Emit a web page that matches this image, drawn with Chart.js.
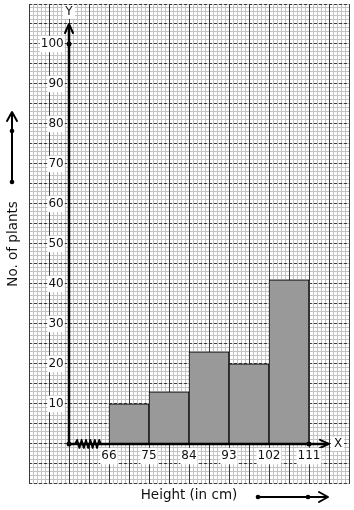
<!DOCTYPE html>
<html>
<head>
<meta charset="utf-8">
<script src="https://cdn.jsdelivr.net/npm/chart.js@4/dist/chart.umd.min.js"></script>
<style>
  html, body { margin: 0; padding: 0; background: #fff; }
</style>
</head>
<body>
<canvas id="chart" width="354" height="510"></canvas>
<script>
// class edges (cm) and number of plants in each class
const heightEdges = [66, 75, 84, 93, 102, 111];
const plantCounts = [10, 13, 23, 20, 41];
const yTickValues = [10, 20, 30, 40, 50, 60, 70, 80, 90, 100];
const xTitle = 'Height (in cm)';
const yTitle = 'No. of plants';

// where the axes cross (x axis has a kink before 66)
const xOrigin = 57;
const yAxisEnd = 105;
const xAxisEnd = 115.5;

const barPoints = plantCounts.map((c, i) => ({
  x: (heightEdges[i] + heightEdges[i + 1]) / 2,
  y: c
}));

const font = { family: 'DejaVu Sans', size: 12 };
const titleFont = { family: 'DejaVu Sans', size: 13.5 };
const ink = '#111';
const minorColor = '#c3c3c3';
const majorColor = '#3c3c3c';

function gridScale(min, max, step, pos, color, z, extra) {
  return Object.assign({
    type: 'linear', position: pos, min: min, max: max, offset: false,
    ticks: { display: false, stepSize: step },
    grid: { color: color, lineWidth: 1, drawTicks: false, offset: false, z: z },
    border: { display: false }
  }, extra || {});
}

const decor = {
  id: 'decor',
  beforeDatasetsDraw(chart) {
    chart.ctx.setLineDash([]);
  },
  afterDatasetsDraw(chart) {
    const { ctx, scales } = chart;
    const x = scales.x, y = scales.y;
    const ox = x.getPixelForValue(xOrigin);
    const oy = y.getPixelForValue(0);
    const yTip = y.getPixelForValue(yAxisEnd);
    const xTip = x.getPixelForValue(xAxisEnd);

    ctx.save();
    ctx.setLineDash([]);
    ctx.strokeStyle = '#000';
    ctx.fillStyle = '#000';
    ctx.lineCap = 'round';
    ctx.lineJoin = 'round';

    // axes
    ctx.lineWidth = 2.5;
    ctx.beginPath();
    ctx.moveTo(ox, oy);
    ctx.lineTo(ox, yTip + 1);
    ctx.moveTo(ox, oy);
    ctx.lineTo(xTip - 1, oy);
    ctx.stroke();

    // arrow heads
    ctx.lineWidth = 2;
    ctx.beginPath();
    ctx.moveTo(ox - 4, yTip + 9);
    ctx.lineTo(ox, yTip);
    ctx.lineTo(ox + 4, yTip + 9);
    ctx.moveTo(xTip - 9, oy - 4);
    ctx.lineTo(xTip, oy);
    ctx.lineTo(xTip - 9, oy + 4);
    ctx.stroke();

    // kink on the x axis
    ctx.lineWidth = 1.8;
    ctx.beginPath();
    let px = ox + 6;
    ctx.moveTo(px, oy);
    let up = true;
    while (px < ox + 30) {
      px += 2.2;
      ctx.lineTo(px, oy + (up ? -4 : 4));
      up = !up;
    }
    ctx.lineTo(px + 1.5, oy);
    ctx.stroke();

    // dots
    const dots = [[ox, oy], [ox, y.getPixelForValue(100)], [x.getPixelForValue(heightEdges[heightEdges.length - 1]), oy]];
    dots.forEach(d => {
      ctx.beginPath();
      ctx.arc(d[0], d[1], 2.5, 0, Math.PI * 2);
      ctx.fill();
    });

    // axis letters
    ctx.font = '12px "DejaVu Sans"';
    ctx.textAlign = 'center';
    ctx.textBaseline = 'middle';
    ctx.fillStyle = '#fff';
    ctx.fillRect(ox - 6, yTip - 19, 12, 14);
    ctx.fillRect(xTip + 2, oy - 7, 13, 14);
    ctx.fillStyle = ink;
    ctx.fillText('Y', ox, yTip - 12);
    ctx.fillText('X', xTip + 9, oy);

    // direction arrows beside the titles
    ctx.strokeStyle = '#000';
    ctx.fillStyle = '#000';
    ctx.lineWidth = 2;
    ctx.beginPath();
    ctx.moveTo(12, 182);
    ctx.lineTo(12, 113);
    ctx.moveTo(7, 121);
    ctx.lineTo(12, 112);
    ctx.lineTo(17, 121);
    ctx.moveTo(258, 497);
    ctx.lineTo(327, 497);
    ctx.moveTo(319, 492);
    ctx.lineTo(328, 497);
    ctx.lineTo(319, 502);
    ctx.stroke();
    [[12, 182], [12, 131], [258, 497], [308, 497]].forEach(d => {
      ctx.beginPath();
      ctx.arc(d[0], d[1], 2.3, 0, Math.PI * 2);
      ctx.fill();
    });
    ctx.restore();
  }
};

new Chart(document.getElementById('chart'), {
  type: 'bar',
  data: {
    datasets: [{
      data: barPoints,
      xAxisID: 'x',
      yAxisID: 'y',
      backgroundColor: '#999999',
      borderColor: '#000',
      borderWidth: 1,
      barPercentage: 1,
      categoryPercentage: 1
    }]
  },
  options: {
    responsive: false,
    animation: false,
    events: [],
    layout: { padding: { left: 4.9, top: 4, right: 5, bottom: 2.9 } },
    plugins: { legend: { display: false }, tooltip: { enabled: false } },
    scales: {
      xMinor: gridScale(0, 80, 1, 'bottom', minorColor, -2, {
        title: { display: true, text: xTitle, font: titleFont, color: ink, padding: { top: 3, bottom: 4 } }
      }),
      yMinor: gridScale(-10, 110, 1, 'left', minorColor, -2, {
        title: { display: true, text: yTitle, font: titleFont, color: ink, padding: { top: 0, bottom: 7.9 } }
      }),
      xMajor: gridScale(48, 120, 4.5, 'bottom', majorColor, -1),
      yMajor: gridScale(-10, 110, 5, 'left', majorColor, -1, {
        border: { display: false, dash: [3, 2] }
      }),
      x: {
        type: 'linear', min: 48, max: 120, offset: false,
        position: { y: 0 },
        grid: { display: false, drawTicks: false, offset: false },
        border: { display: false },
        ticks: {
          autoSkip: false, maxRotation: 0, font: font, color: ink, padding: 5, z: 1,
          showLabelBackdrop: true, backdropColor: '#fff', backdropPadding: 1
        },
        afterBuildTicks: s => { s.ticks = heightEdges.map(v => ({ value: v })); },
        afterFit: s => { s.paddingLeft = 0; s.paddingRight = 0; s.paddingTop = 0; s.paddingBottom = 0; }
      },
      y: {
        type: 'linear', min: -10, max: 110,
        // labels sit a few pixels left of the y axis line
        position: { x: xOrigin - 1.2 },
        grid: { display: false, drawTicks: false },
        border: { display: false },
        ticks: {
          autoSkip: false, font: font, color: ink, padding: 5, z: 1,
          showLabelBackdrop: true, backdropColor: '#fff', backdropPadding: 1
        },
        afterBuildTicks: s => { s.ticks = yTickValues.map(v => ({ value: v })); },
        afterFit: s => { s.paddingLeft = 0; s.paddingRight = 0; s.paddingTop = 0; s.paddingBottom = 0; }
      }
    }
  },
  plugins: [decor]
});
</script>
</body>
</html>
